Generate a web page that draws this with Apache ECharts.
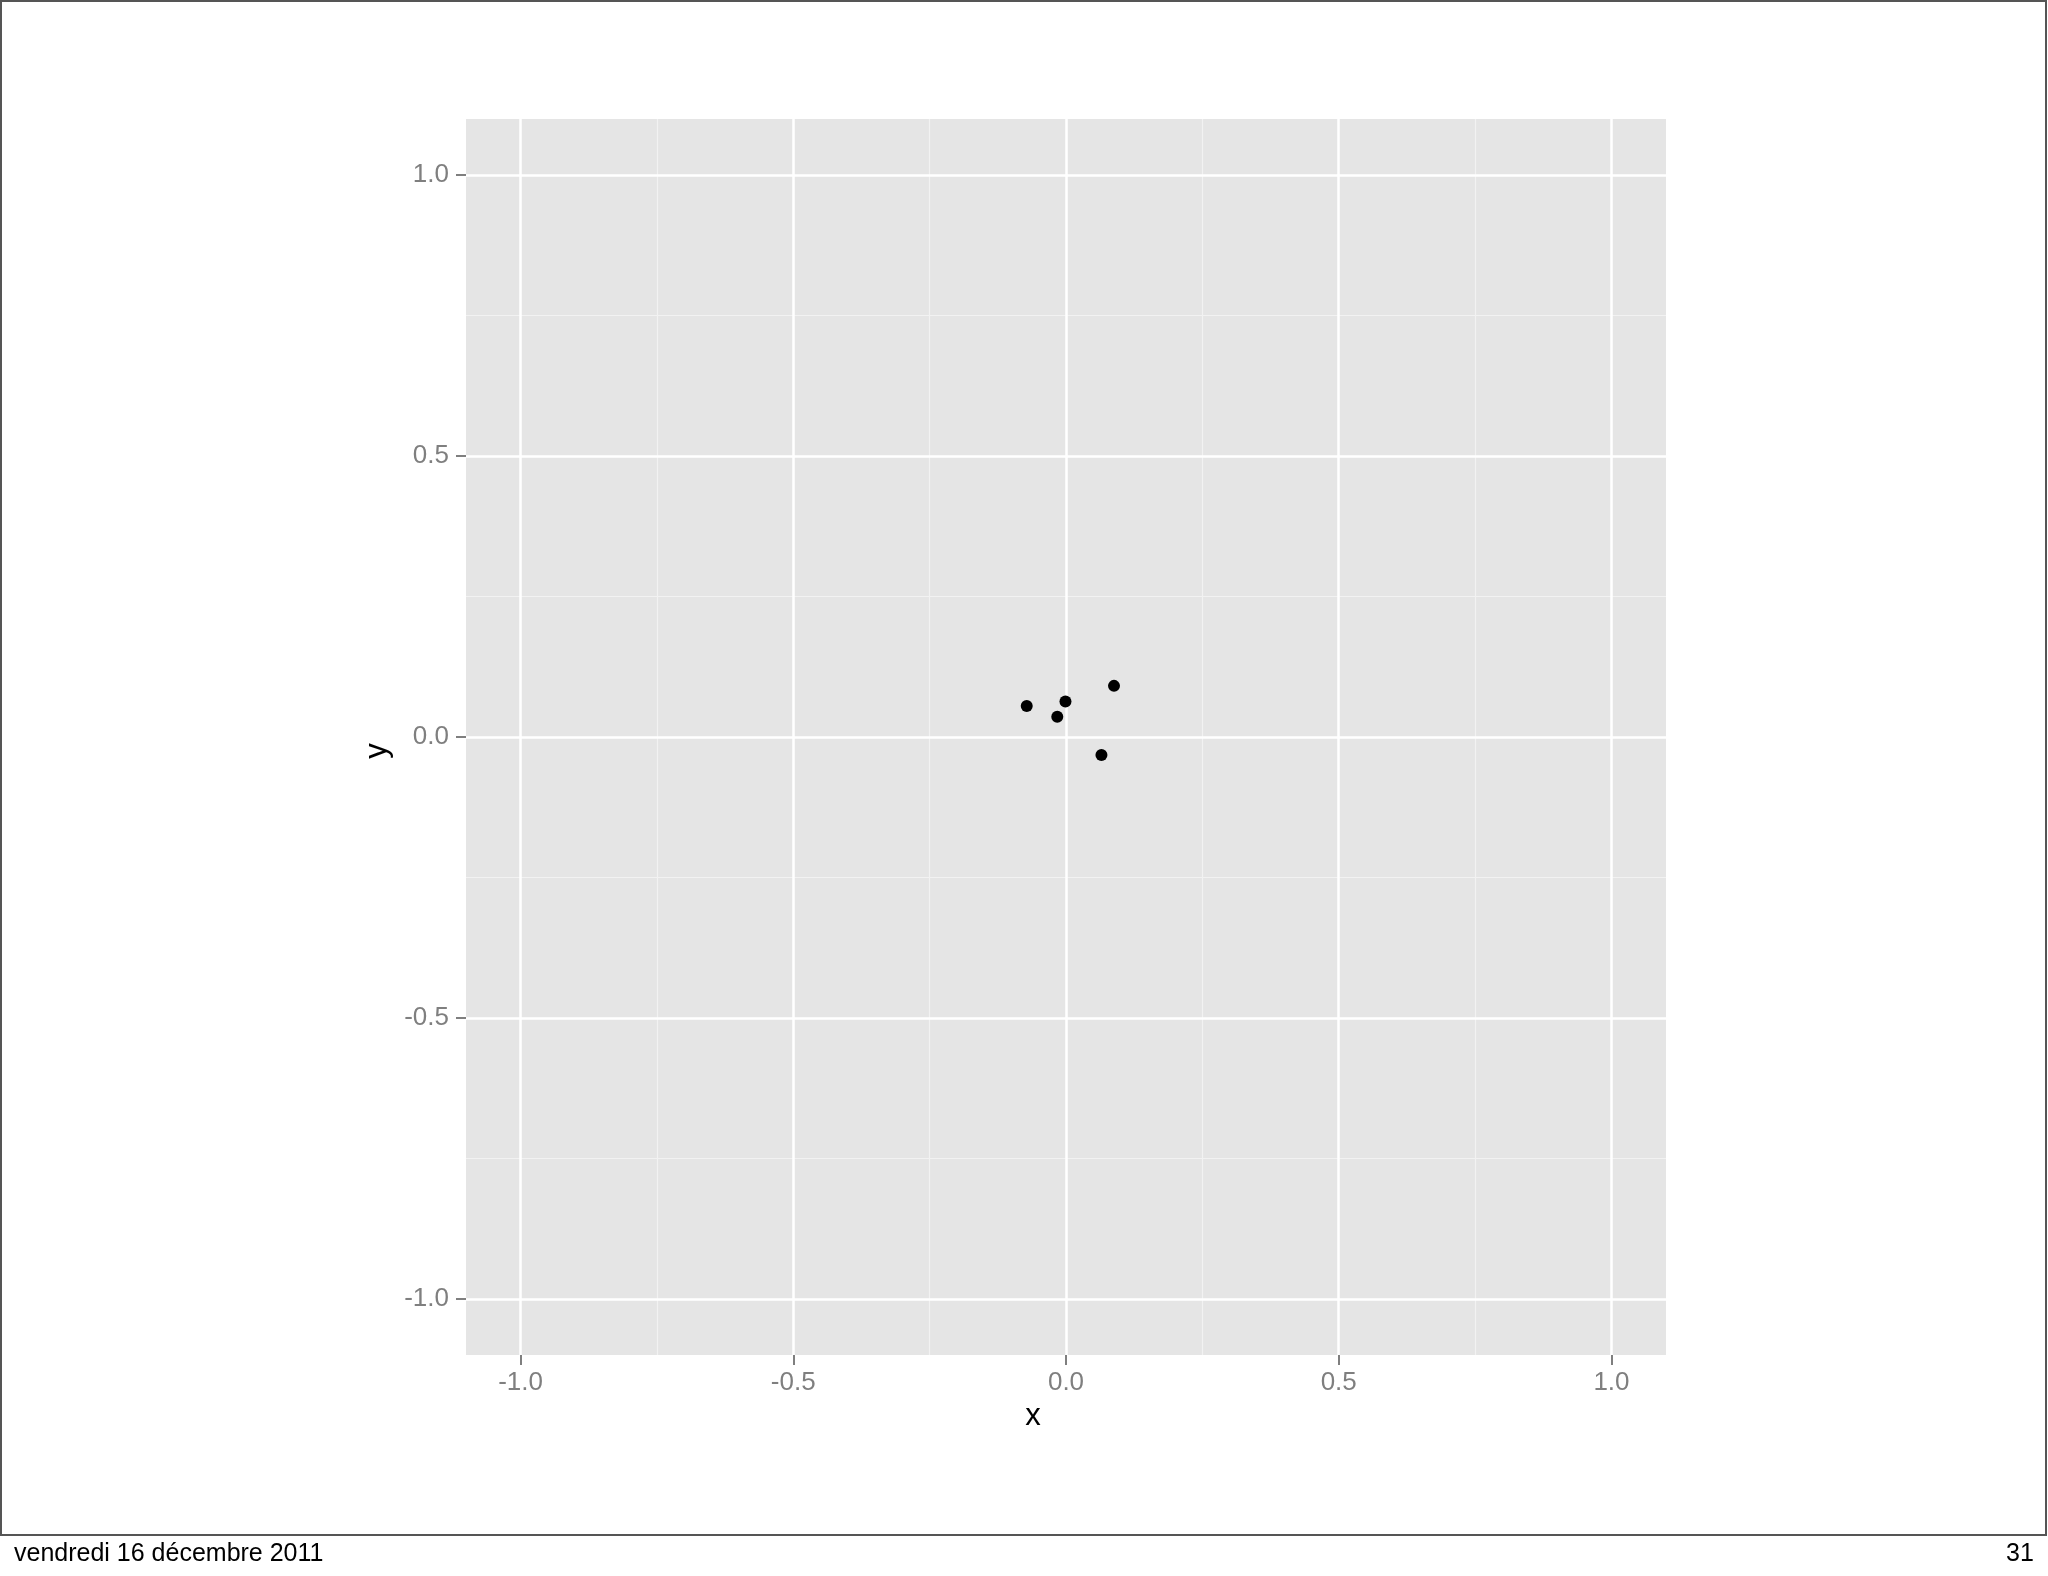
<!DOCTYPE html>
<html>
<head>
<meta charset="utf-8">
<script src="https://cdn.jsdelivr.net/npm/echarts@6/dist/echarts.min.js"></script>
<style>
html,body{margin:0;padding:0;background:#fff;}
#c{width:2048px;height:1576px;}
</style>
</head>
<body>
<div id="c"></div>
<script>
var xValues = [-0.072, -0.001, -0.016, 0.088, 0.065];
var yValues = [0.055, 0.063, 0.036, 0.091, -0.032];
var majorBreaks = [-1.0, -0.5, 0.0, 0.5, 1.0];
var minorBreaks = [-0.75, -0.25, 0.25, 0.75];
var axisMin = -1.1, axisMax = 1.1;
var footerLeft = 'vendredi 16 décembre 2011';
var footerRight = '31';

var points = xValues.map(function (x, i) { return [x, yValues[i]]; });
var FONT = '"Liberation Sans", Arial, Helvetica, sans-serif';

function gridLines(list, width, color) {
  var d = [];
  list.forEach(function (v) {
    d.push({ xAxis: v, lineStyle: { color: color, width: width, type: 'solid' } });
    d.push({ yAxis: v, lineStyle: { color: color, width: width, type: 'solid' } });
  });
  return d;
}

var chart = echarts.init(document.getElementById('c'), null, { renderer: 'canvas' });
var axisCommon = {
  type: 'value',
  min: axisMin,
  max: axisMax,
  axisLine: { show: false, onZero: false },
  splitLine: { show: false },
  axisTick: { show: true, customValues: majorBreaks, length: 10, lineStyle: { color: '#7f7f7f', width: 2 } },
  axisLabel: {
    customValues: majorBreaks,
    color: '#7f7f7f', fontSize: 26, fontFamily: FONT,
    formatter: function (v) { return Number(v).toFixed(1); }
  },
  nameLocation: 'middle',
  nameTextStyle: { color: '#000', fontSize: 31, fontFamily: FONT }
};

chart.setOption({
  animation: false,
  backgroundColor: '#ffffff',
  grid: { left: 466, top: 119, right: 382, bottom: 221, show: true, backgroundColor: '#e5e5e5', borderWidth: 0 },
  xAxis: Object.assign({}, axisCommon, {
    name: 'x', nameGap: 46,
    axisLabel: Object.assign({}, axisCommon.axisLabel, { margin: 15 }),
    nameTextStyle: Object.assign({}, axisCommon.nameTextStyle, { padding: [0, 66, 0, 0] })
  }),
  yAxis: Object.assign({}, axisCommon, {
    name: 'y', nameGap: 70,
    axisLabel: Object.assign({}, axisCommon.axisLabel, { margin: 17 }),
    nameTextStyle: Object.assign({}, axisCommon.nameTextStyle, { padding: [0, 28, 0, 0] })
  }),
  series: [
    {
      type: 'line', data: [], silent: true,
      markLine: {
        silent: true, symbol: 'none', label: { show: false }, animation: false,
        data: gridLines(minorBreaks, 1.2, '#f2f2f2').concat(gridLines(majorBreaks, 2.5, '#ffffff'))
      }
    },
    {
      type: 'scatter', data: points, symbol: 'circle', symbolSize: 12,
      itemStyle: { color: '#000000', opacity: 1 }, z: 5
    }
  ],
  graphic: [
    { type: 'rect', shape: { x: 1, y: 1, width: 2045, height: 1534 }, style: { fill: 'none', stroke: '#555555', lineWidth: 2 }, silent: true },
    { type: 'text', left: 14, top: 1542, style: { text: footerLeft, fill: '#000', font: '25px ' + FONT } },
    { type: 'text', left: 2006, top: 1542, style: { text: footerRight, fill: '#000', font: '25px ' + FONT } }
  ]
});
</script>
</body>
</html>
